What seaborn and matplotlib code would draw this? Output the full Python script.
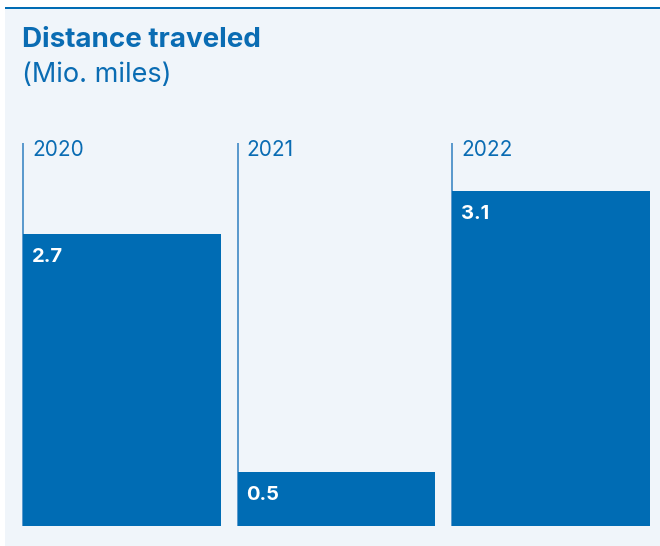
import matplotlib
matplotlib.use("Agg")
import matplotlib.pyplot as plt
import seaborn as sns
import pandas as pd

years = ["2020", "2021", "2022"]
distance = [2.7, 0.5, 3.1]

title = "Distance traveled"
subtitle = "(Mio. miles)"

BLUE = "#006cb4"
TEXT_BLUE = "#0a6cb3"
PANEL = "#f0f5fa"

sns.set_theme(style="white")
plt.rcParams["font.family"] = ["Inter", "DejaVu Sans"]

W, H = 660, 546
fig = plt.figure(figsize=(W / 100, H / 100), dpi=100)
fig.patch.set_facecolor("white")

# light panel with accent rule on top
fig.patches.append(plt.Rectangle((5 / W, 0), 1 - 5 / W, 1 - 9 / H,
                                 transform=fig.transFigure, facecolor=PANEL,
                                 edgecolor="none", zorder=-2))
fig.patches.append(plt.Rectangle((5 / W, 1 - 9 / H), 1 - 5 / W, 2.5 / H,
                                 transform=fig.transFigure, facecolor=BLUE,
                                 edgecolor="none", zorder=-1))

fig.text(22 / W, 1 - 40 / H, title, color=TEXT_BLUE, fontsize=20,
         fontweight="bold", va="center", ha="left")
fig.text(22 / W, 1 - 75 / H, subtitle, color=TEXT_BLUE, fontsize=19.5,
         va="center", ha="left")

# axes area in pixels: x 23..650, y 143..525
left, right, top, bottom = 23, 650, 143, 525.5
ax = fig.add_axes([left / W, 1 - bottom / H, (right - left) / W, (bottom - top) / H])
ax.set_facecolor("none")
ax.set_zorder(5)

df = pd.DataFrame({"year": years, "distance": distance})
bw = 0.923
sns.barplot(data=df, x="year", y="distance", color=BLUE, saturation=1,
            width=bw, ax=ax, zorder=2)
for p in ax.patches:
    p.set_facecolor(BLUE)
    p.set_edgecolor("none")

px_per_unit = 108.0
ymax = (bottom - top) / px_per_unit
ax.set_xlim(-bw / 2, len(years) - 1 + bw / 2)
ax.set_ylim(0, ymax)

for i, (yr, v) in enumerate(zip(years, distance)):
    x0 = i - bw / 2
    ax.plot([x0, x0], [0, ymax], color="#2f7fc0", lw=1.1, zorder=1,
            solid_capstyle="butt", clip_on=False)
    ax.annotate(yr, (x0, ymax), xytext=(9, -7), textcoords="offset pixels",
                color=TEXT_BLUE, fontsize=15, va="center", ha="left")
    ax.annotate(f"{v}", (x0, v), xytext=(9, -23.5), textcoords="offset pixels",
                color="white", fontsize=14.5, fontweight="bold",
                va="center", ha="left", zorder=3)

ax.set_xticks([])
ax.set_yticks([])
ax.set_xlabel("")
ax.set_ylabel("")
for s in ax.spines.values():
    s.set_visible(False)

fig.savefig("out.png", dpi=100, facecolor="white")
